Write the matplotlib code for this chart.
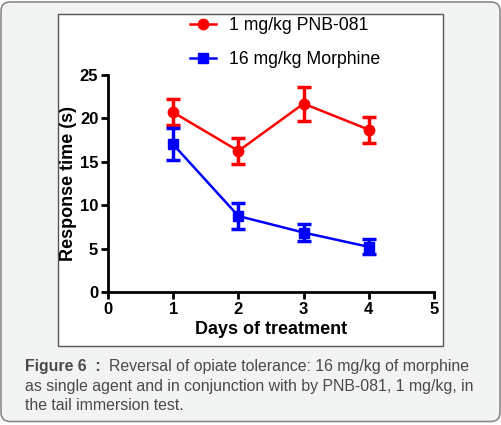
import matplotlib
matplotlib.use("Agg")
import matplotlib.pyplot as plt
from matplotlib.patches import FancyBboxPatch, Rectangle

plt.rcParams["font.family"] = ["Liberation Sans", "DejaVu Sans"]

# Data
days = [1, 2, 3, 4]
pnb_mean = [20.7, 16.25, 21.7, 18.7]
pnb_err = [1.5, 1.45, 1.95, 1.5]
morph_mean = [17.0, 8.75, 6.85, 5.2]
morph_err = [1.85, 1.5, 0.95, 0.85]

x_ticks = [0, 1, 2, 3, 4, 5]
y_ticks = [0, 5, 10, 15, 20, 25]

W, H = 502, 425
fig = plt.figure(figsize=(W / 100, H / 100), dpi=100)
fig.patch.set_facecolor("white")

# outer rounded card
card = FancyBboxPatch((0.01, 0.035), 4.99, 4.195,
                      boxstyle="round,pad=0,rounding_size=0.09",
                      transform=fig.dpi_scale_trans,
                      facecolor="#f2f4f3", edgecolor="#8a8a8a", linewidth=1.2,
                      zorder=-3)
fig.patches.append(card)

# white panel holding the chart
panel = Rectangle((58 / W, 1 - 345.5 / H), (443 - 58) / W, (345.5 - 14) / H,
                  transform=fig.transFigure, facecolor="white",
                  edgecolor="#555555", linewidth=1.0, zorder=-2)
fig.patches.append(panel)

ax = fig.add_axes([108 / W, 1 - 292 / H, 326 / W, 217 / H])
ax.set_facecolor("none")

red = "#ff0000"
blue = "#0000ff"

ax.errorbar(days, pnb_mean, yerr=pnb_err, fmt="none", ecolor=red,
            elinewidth=2.5, capsize=5, capthick=2.5, clip_on=False)
ax.errorbar(days, morph_mean, yerr=morph_err, fmt="none", ecolor=blue,
            elinewidth=2.5, capsize=5, capthick=2.5, clip_on=False)
l1, = ax.plot(days, pnb_mean, color=red, lw=1.8, marker="o", ms=7.5,
              label="1 mg/kg PNB-081", clip_on=False)
l2, = ax.plot(days, morph_mean, color=blue, lw=1.8, marker="s", ms=7.5,
              label="16 mg/kg Morphine", clip_on=False)

ax.set_xlim(0, 5)
ax.set_ylim(0, 25)
ax.set_xticks(x_ticks)
ax.set_yticks(y_ticks)
for s in ["top", "right"]:
    ax.spines[s].set_visible(False)
for s in ["left", "bottom"]:
    ax.spines[s].set_linewidth(2)
ax.tick_params(direction="out", length=5, width=2, labelsize=12, pad=2)
for lab in ax.get_xticklabels() + ax.get_yticklabels():
    lab.set_fontweight("bold")

ax.set_xlabel("Days of treatment", fontsize=13, fontweight="bold", labelpad=3)
ax.set_ylabel("Response time (s)", fontsize=13, fontweight="bold", labelpad=2)

fig.legend(handles=[l1, l2], loc="upper left",
           bbox_to_anchor=(190 / W, 1 - 17 / H), frameon=False,
           fontsize=12.7, handlelength=1.5, handletextpad=0.7,
           labelspacing=0.98, borderpad=0, borderaxespad=0)

# caption
cap_col = "#4a4a4a"
cap_fs = 11.4
fig.text(25 / W, 1 - 367 / H, "Figure 6  :", fontsize=cap_fs, fontweight="bold",
         color=cap_col, va="center", ha="left")
fig.text(109 / W, 1 - 367 / H, "Reversal of opiate tolerance: 16 mg/kg of morphine",
         fontsize=cap_fs, color=cap_col, va="center", ha="left")
fig.text(25 / W, 1 - 386 / H,
         "as single agent and in conjunction with by PNB-081, 1 mg/kg, in",
         fontsize=cap_fs, color=cap_col, va="center", ha="left")
fig.text(25 / W, 1 - 405 / H, "the tail immersion test.",
         fontsize=cap_fs, color=cap_col, va="center", ha="left")

fig.savefig("out.png", dpi=100)
